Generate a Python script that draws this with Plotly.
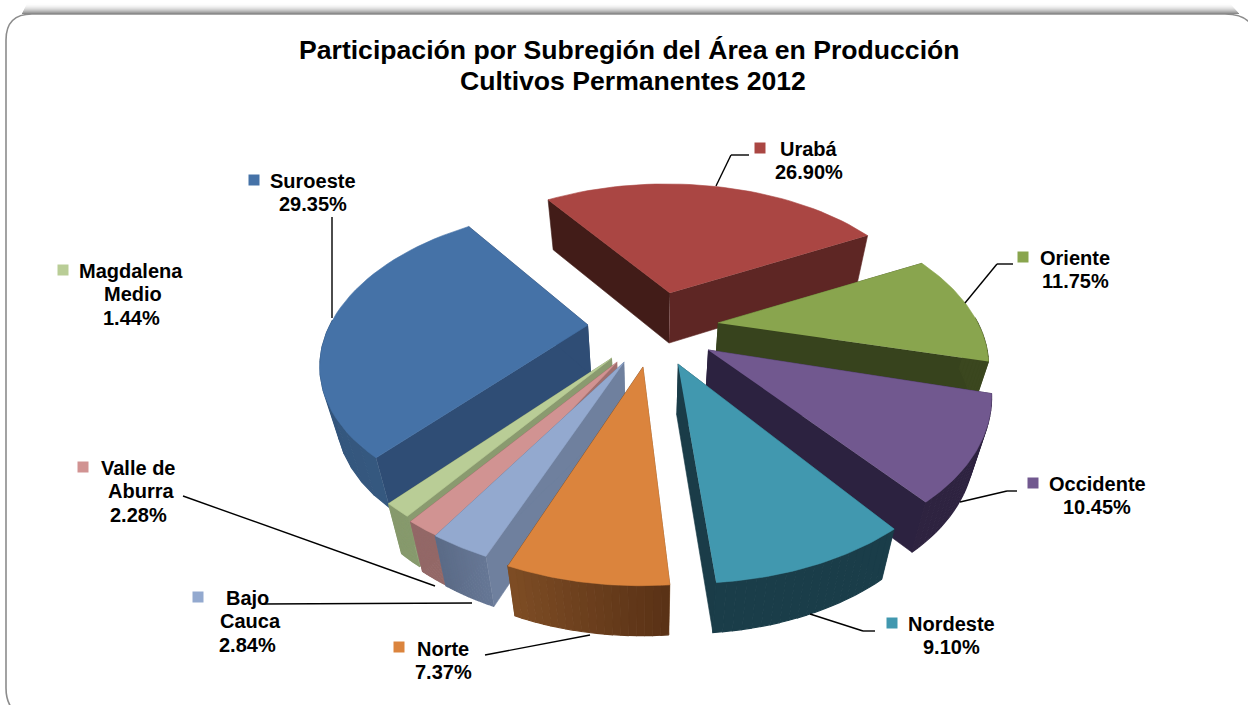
import numpy as np
import plotly.graph_objects as go

# ---- data ----
subregions = ["Urabá", "Oriente", "Occidente", "Nordeste", "Norte", "Bajo Cauca",
              "Valle de Aburra", "Magdalena Medio", "Suroeste"]
shares = [26.90, 11.75, 10.45, 9.10, 7.37, 2.84, 2.28, 1.44, 29.35]
label_lines = [["Urabá"], ["Oriente"], ["Occidente"], ["Nordeste"], ["Norte"], ["Bajo", "Cauca"],
               ["Valle de", "Aburra"], ["Magdalena", "Medio"], ["Suroeste"]]

# ---- styles ----
top_col = ["#aa4643", "#89a54e", "#71588f", "#4198af", "#db843d", "#93a9cf", "#d19392", "#b9cd96", "#4572a7"]
wall_a = ["#4a1f1d", "#3b471f", "#2e2340", "#1a3d49", "#5a3216", "#667795", "#936867", "#879a6d", "#35587f"]
wall_b = ["#4a1f1d", "#3b471f", "#2e2340", "#1a3d49", "#7d4c24", "#5b6b87", "#936867", "#879a6d", "#2f4d75"]
rad_start = ["#421c18", "#37431d", "#2c2240", "#1a3c48", "#7a4a22", "#6f809e", "#a06f6e", "#8a9a6f", "#2f4d75"]
rad_end = ["#5e2624", "#37431d", "#2c2240", "#1a3c48", "#7a4a22", "#6f809e", "#a06f6e", "#8a9a6f", "#2f4d75"]
pull_u = [0.079, 0.256, 0.21, 0.099, -0.025, -0.092, -0.117, -0.136, -0.233]
pull_v = [0.445, 0.232, 0.056, -0.03, -0.048, -0.018, -0.018, 0.006, 0.218]
turn = [-3.0, -1.5, -1.0, 0.0, 0.0, 0.0, -3.5, -4.0, -5.0]
scale = [0.99, 0.98, 0.985, 1.0, 0.99, 0.985, 0.97, 0.97, 0.97]
START = -31.0
CX, CY, RX, RY, K, DEPTH, SHRINK = 650.0, 359.0, 280.0, 164.0, 0.24, 50.0, 0.05


def project(u, v, z=0.0):
    s = 1.0 / (1.0 + K * v)
    return CX + RX * u * s * (1 - SHRINK * z), CY - RY * v * s + z * DEPTH


def hexmix(a, b, t):
    ca = [int(a[i:i + 2], 16) for i in (1, 3, 5)]
    cb = [int(b[i:i + 2], 16) for i in (1, 3, 5)]
    return "rgb({},{},{})".format(*[round(x + (y - x) * t) for x, y in zip(ca, cb)])


fig = go.Figure()


def poly(xs, ys, color, lw=0.6):
    fig.add_trace(go.Scatter(x=list(xs), y=list(ys), mode="lines", fill="toself", fillcolor=color,
                             line=dict(color=color, width=lw), hoverinfo="skip", showlegend=False))


total = sum(shares)
edges = START + np.concatenate([[0], np.cumsum(shares)]) / total * 360.0
order = sorted(range(len(shares)), key=lambda i: -np.cos(np.radians((edges[i] + edges[i + 1]) / 2)))

for i in order:
    a0, a1 = edges[i] + turn[i], edges[i + 1] + turn[i]
    ou, ov = pull_u[i], pull_v[i]
    th = np.radians(np.linspace(a0, a1, 41))
    u, v = ou + scale[i] * np.sin(th), ov + scale[i] * np.cos(th)
    # radial side faces
    for au, av, col in ((u[0], v[0], rad_start[i]), (u[-1], v[-1], rad_end[i])):
        p = [project(ou, ov), project(au, av), project(au, av, 1), project(ou, ov, 1)]
        poly([q[0] for q in p], [q[1] for q in p], col)
    # outer wall in strips (shaded left to right), only on the part facing the viewer
    n = 20
    idx = np.linspace(0, len(th) - 1, n + 1).astype(int)
    for a, b, j in zip(idx[:-1], idx[1:], range(n)):
        if np.cos(th[(a + b) // 2]) > 0.05:
            continue
        seg = [project(u[k], v[k]) for k in range(a, b + 1)]
        seg2 = [project(u[k], v[k], 1) for k in range(b, a - 1, -1)]
        poly([q[0] for q in seg + seg2], [q[1] for q in seg + seg2], hexmix(wall_a[i], wall_b[i], j / (n - 1)), lw=1.2)
    # top face
    pts = [project(ou, ov)] + [project(a, b) for a, b in zip(u, v)]
    poly([q[0] for q in pts], [q[1] for q in pts], top_col[i])

# ---- frame ----
shapes = []
for k, ramp in enumerate(np.linspace(0.05, 1.0, 11)):
    y0 = 3.5 + k
    shapes.append(dict(type="line", xref="x", yref="y", x0=27 - k * 0.5, x1=1230 + k * 0.9, y0=y0, y1=y0,
                       line=dict(color=f"rgba(110,110,110,{0.8 * ramp ** 2:.3f})", width=1.2), layer="below"))
shapes.append(dict(type="path", xref="x", yref="y", layer="below",
                   path="M 6 688 Q 6 706 18 714 L 1254 714 L 1254 30 Q 1248 14 1225 14 L 32 14 Q 6 14 6 40 Z",
                   fillcolor="white", line=dict(color="#8c8c8c", width=1.6)))

# ---- labels ----
label_pos = [(809, 149), (1075, 258), (1097, 484), (951, 624), (443, 649), (247, 598), (138, 468), (131, 271), (313, 181)]
line_shift = {(5, 1): 3, (6, 1): 3, (7, 1): 2}
key_pos = [(760, 148), (1023, 257), (1033, 483), (892, 623), (399, 647), (198, 597), (83, 467), (63, 270), (254, 180)]
FS = 20
LH = 23.3
FONT = "Liberation Sans"
annotations = [dict(x=629, y=49.5, xref="x", yref="y", text="<b>Participación por Subregión del Área en Producción</b>",
                    showarrow=False, font=dict(size=26.6, color="black", family=FONT), xanchor="center", yanchor="middle"),
               dict(x=632.5, y=80.5, xref="x", yref="y", text="<b>Cultivos Permanentes 2012</b>",
                    showarrow=False, font=dict(size=26.6, color="black", family=FONT), xanchor="center", yanchor="middle")]
for i in range(len(shares)):
    lx, ly = label_pos[i]
    lines = label_lines[i] + [f"{shares[i]:.2f}%"]
    for j, t in enumerate(lines):
        annotations.append(dict(x=lx + line_shift.get((i, j), 0), y=ly + j * LH, xref="x", yref="y",
                                text=f"<b>{t}</b>", showarrow=False,
                                font=dict(size=FS, color="black", family=FONT),
                                xanchor="center", yanchor="middle"))
    kx, ky = key_pos[i]
    shapes.append(dict(type="rect", xref="x", yref="y", x0=kx - 5.5, x1=kx + 5.5, y0=ky - 5.5, y1=ky + 5.5,
                       fillcolor=top_col[i], line=dict(width=0), layer="above"))

leaders = [[(749, 155), (731, 155), (716, 186)], [(1013, 264), (997, 264), (965, 303)],
           [(1017, 491), (1007, 491), (960, 502)], [(875, 631), (863, 631), (810, 614)],
           [(485, 655), (590, 635)], [(262, 604), (472, 603)], [(183, 496), (435, 586)],
           [(332, 217), (332, 318)]]
for path in leaders:
    for (x0, y0), (x1, y1) in zip(path[:-1], path[1:]):
        shapes.append(dict(type="line", xref="x", yref="y", x0=x0, y0=y0, x1=x1, y1=y1,
                           line=dict(color="black", width=1.4), layer="above"))

fig.update_layout(width=1248, height=705, margin=dict(l=0, r=0, t=0, b=0), paper_bgcolor="white", plot_bgcolor="white",
                  showlegend=False, shapes=shapes, annotations=annotations,
                  xaxis=dict(range=[0, 1248], visible=False, fixedrange=True),
                  yaxis=dict(range=[705, 0], visible=False, fixedrange=True))
fig.write_html("out.html", config={"displayModeBar": False}, default_width="1248px", default_height="705px",
               include_plotlyjs=True,
               post_script="document.body.style.margin='0';document.documentElement.style.overflow='hidden';")
